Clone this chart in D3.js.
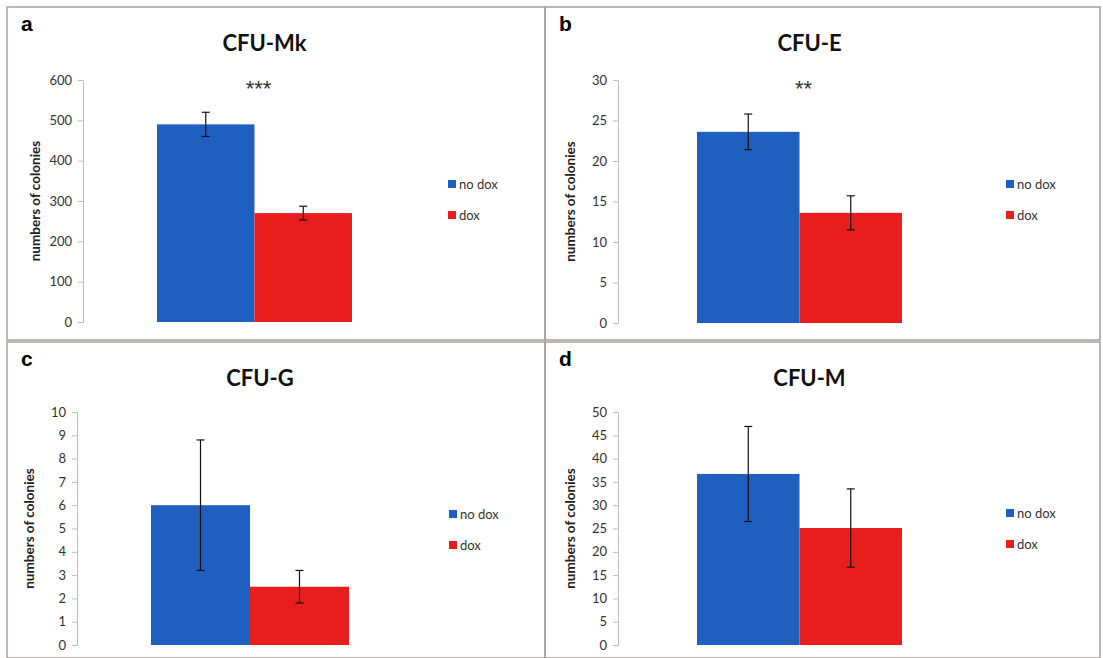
<!DOCTYPE html>
<html>
<head>
<meta charset="utf-8">
<script src="https://cdn.jsdelivr.net/npm/d3@7"></script>
<style>
  body { margin: 0; background: #fff; }
  .tick text { font-family: Lato, "Open Sans", sans-serif; font-size: 13px; fill: #333; }
  .axis path, .axis line { stroke: #bdbdbd; }
</style>
</head>
<body>
<div id="chart"></div>
<script>
// values
var letters = ["a", "b", "c", "d"];
var titles = ["CFU-Mk", "CFU-E", "CFU-G", "CFU-M"];
var groups = ["no dox", "dox"];
var noDoxMean = [490, 23.6, 6.0, 36.7];
var noDoxErr = [30, 2.2, 2.8, 10.2];
var doxMean = [270, 13.6, 2.5, 25.1];
var doxErr = [17, 2.1, 0.7, 8.4];
var yMax = [600, 30, 10, 50];
var yStep = [100, 5, 1, 5];
var stars = ["***", "**", "", ""];

var colors = {"no dox": "#1e5fbf", "dox": "#e81e1e"};

// layout of each panel: frame box, axis x, plot top/bottom, bar band range
var frames = [[7, 7, 545, 340], [545, 7, 1100, 340], [7, 342, 545, 658], [545, 342, 1100, 658]];
var axisX = [83, 618, 77, 618];
var plotTop = [80, 80, 412, 412];
var plotBot = [322, 323, 645, 645];
var bandRange = [[157, 352], [697, 902], [151, 349], [697, 902]];
var legendX = [452, 1010, 453, 1010];
var legendY = [184, 184, 514, 513];

var svg = d3.select("#chart")
    .append("svg")
    .attr("width", 1103)
    .attr("height", 658);

svg.append("rect")
  .attr("width", 1103).attr("height", 658).attr("fill", "#fff");

letters.forEach(function (letter, i) {
  var f = frames[i];
  var g = svg.append("g");

  g.append("rect")
    .attr("x", f[0]).attr("y", f[1])
    .attr("width", f[2] - f[0]).attr("height", f[3] - f[1])
    .attr("fill", "none")
    .attr("stroke", "#a89f9f")
    .attr("stroke-width", 1.5);

  g.append("text")
    .attr("x", f[0] + 14).attr("y", f[1] + 24)
    .attr("font-family", "Liberation Sans, Arial, sans-serif")
    .attr("font-weight", "bold")
    .attr("font-size", 21)
    .text(letter);

  var mid = (bandRange[i][0] + bandRange[i][1]) / 2;
  g.append("text")
    .attr("x", mid + 10).attr("y", f[1] + 44)
    .attr("text-anchor", "middle")
    .attr("font-family", "Lato, sans-serif")
    .attr("font-weight", "bold")
    .attr("font-size", 22)
    .attr("fill", "#111")
    .text(titles[i]);

  var y = d3.scaleLinear()
      .domain([0, yMax[i]])
      .range([plotBot[i], plotTop[i]]);
  var x = d3.scaleBand()
      .domain(groups)
      .range(bandRange[i])
      .padding(0);

  g.append("g")
    .attr("class", "axis")
    .attr("transform", `translate(${axisX[i]},0)`)
    .call(d3.axisLeft(y).tickValues(d3.range(0, yMax[i] + yStep[i] / 2, yStep[i]))
      .tickSize(5).tickSizeOuter(5).tickPadding(6));

  g.append("text")
    .attr("transform", `translate(${axisX[i] - 43},${(plotTop[i] + plotBot[i]) / 2}) rotate(-90)`)
    .attr("text-anchor", "middle")
    .attr("font-family", "Lato, sans-serif")
    .attr("font-weight", "bold")
    .attr("font-size", 13.5)
    .attr("fill", "#222")
    .text("numbers of colonies");

  var rows = [
    {k: "no dox", m: noDoxMean[i], e: noDoxErr[i]},
    {k: "dox", m: doxMean[i], e: doxErr[i]}
  ];

  g.selectAll(".bar").data(rows).enter().append("rect")
    .attr("class", "bar")
    .attr("x", function (d) { return x(d.k); })
    .attr("width", x.bandwidth())
    .attr("y", function (d) { return y(d.m); })
    .attr("height", function (d) { return y(0) - y(d.m); })
    .attr("fill", function (d) { return colors[d.k]; });

  var err = g.selectAll(".err").data(rows).enter().append("g")
    .attr("class", "err")
    .attr("stroke", "#111")
    .attr("stroke-width", 1.2);
  err.append("line")
    .attr("x1", function (d) { return x(d.k) + x.bandwidth() / 2; })
    .attr("x2", function (d) { return x(d.k) + x.bandwidth() / 2; })
    .attr("y1", function (d) { return y(d.m + d.e); })
    .attr("y2", function (d) { return y(d.m - d.e); });
  [1, -1].forEach(function (s) {
    err.append("line")
      .attr("x1", function (d) { return x(d.k) + x.bandwidth() / 2 - 4; })
      .attr("x2", function (d) { return x(d.k) + x.bandwidth() / 2 + 4; })
      .attr("y1", function (d) { return y(d.m + s * d.e); })
      .attr("y2", function (d) { return y(d.m + s * d.e); });
  });

  if (stars[i]) {
    g.append("text")
      .attr("x", x("dox") + 4).attr("y", plotTop[i] + 16)
      .attr("text-anchor", "middle")
      .attr("font-family", "Liberation Sans, Arial, sans-serif")
      .attr("font-size", 22)
      .attr("fill", "#333")
      .text(stars[i]);
  }

  var lg = g.selectAll(".leg").data(groups).enter().append("g")
    .attr("class", "leg")
    .attr("transform", function (d, j) { return `translate(${legendX[i]},${legendY[i] + j * 31})`; });
  lg.append("rect")
    .attr("x", -4).attr("y", -4).attr("width", 8).attr("height", 8)
    .attr("fill", function (d) { return colors[d]; });
  lg.append("text")
    .attr("x", 7).attr("y", 4.5)
    .attr("font-family", "Lato, sans-serif")
    .attr("font-size", 13)
    .attr("fill", "#333")
    .text(function (d) { return d; });
});
</script>
</body>
</html>
